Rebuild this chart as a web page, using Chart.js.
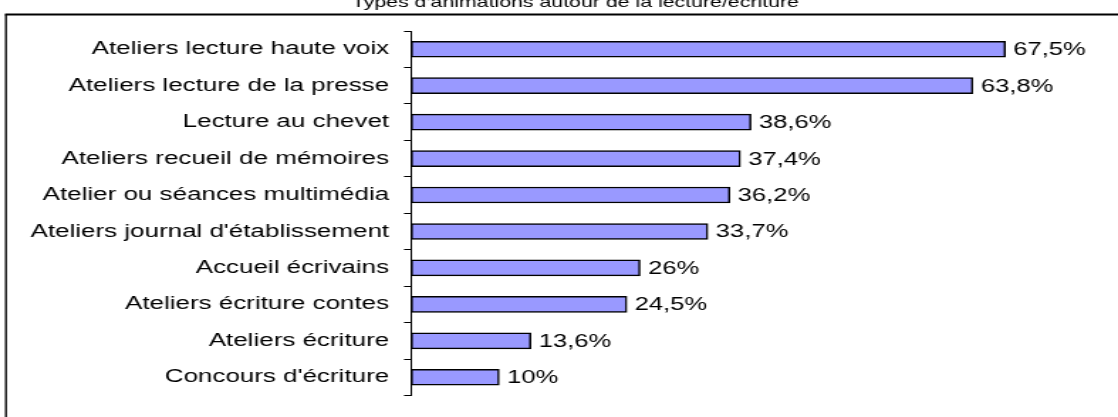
<!DOCTYPE html>
<html>
<head>
<meta charset="utf-8">
<script src="https://cdn.jsdelivr.net/npm/chart.js@4"></script>
<style>
  html, body { margin: 0; padding: 0; background: #fff; overflow: hidden; }
  #wrap { width: 787px; height: 417px; transform: scaleX(1.4206); transform-origin: 0 0; }
</style>
</head>
<body>
<div id="wrap"><canvas id="anim-chart" width="787" height="417"></canvas></div>
<script>
const chartTitle = "Types d'animations autour de la lecture/écriture";
const categories = [
    'Ateliers lecture haute voix',
    'Ateliers lecture de la presse',
    'Lecture au chevet',
    'Ateliers recueil de mémoires',
    'Atelier ou séances multimédia',
    "Ateliers journal d'établissement",
    'Accueil écrivains',
    'Ateliers écriture contes',
    'Ateliers écriture',
    "Concours d'écriture"
];
const percentages = [67.5, 63.8, 38.6, 37.4, 36.2, 33.7, 26, 24.5, 13.6, 10];

const fontFamily = '"Liberation Sans", Arial, sans-serif';

// frame + title (title is partly cut at the top, like the original)
const framePlugin = {
    id: 'frame',
    beforeDraw(chart) {
        const c = chart.ctx;
        c.save();
        c.strokeStyle = '#000';
        c.lineWidth = 2;
        c.beginPath();
        c.moveTo(3.5, 14.5);
        c.lineTo(chart.width + 5, 14.5);
        c.stroke();
        c.lineWidth = 1.4;
        c.beginPath();
        c.moveTo(4.2, 14.5);
        c.lineTo(4.2, chart.height + 5);
        c.stroke();
        c.fillStyle = '#000';
        c.font = '15px ' + fontFamily;
        c.textAlign = 'center';
        c.textBaseline = 'alphabetic';
        c.fillText(chartTitle, 405, 7);
        c.restore();
    }
};

// value labels at the end of each bar
const valueLabels = {
    id: 'valueLabels',
    afterDatasetsDraw(chart) {
        const c = chart.ctx;
        const meta = chart.getDatasetMeta(0);
        c.save();
        c.fillStyle = '#000';
        c.font = '18px ' + fontFamily;
        c.textAlign = 'left';
        c.textBaseline = 'middle';
        meta.data.forEach((bar, i) => {
            const txt = String(percentages[i]).replace('.', ',') + '%';
            c.fillText(txt, bar.x + 5.6, bar.y + 1);
        });
        c.restore();
    }
};

const ctx = document.getElementById('anim-chart').getContext('2d');
const animChart = new Chart(ctx, {
    type: 'bar',
    data: {
        labels: categories,
        datasets: [{
            data: percentages,
            backgroundColor: '#9999FF',
            borderColor: '#000',
            borderWidth: 1.5,
            borderSkipped: false,
            barThickness: 16
        }]
    },
    options: {
        indexAxis: 'y',
        responsive: false,
        devicePixelRatio: 1,
        animation: false,
        layout: { padding: { top: 31, bottom: 7, left: 0, right: 1.8 } },
        plugins: {
            legend: { display: false },
            tooltip: { enabled: false }
        },
        scales: {
            x: { display: false, min: 0, max: 80 },
            y: {
                afterFit(scale) { scale.width = 289.4; },
                grid: {
                    display: true,
                    drawOnChartArea: false,
                    drawTicks: true,
                    tickLength: 5,
                    color: '#000',
                    lineWidth: 1,
                    offset: true
                },
                border: { display: true, color: '#000', width: 1 },
                ticks: {
                    color: '#000',
                    autoSkip: false,
                    padding: 10.5,
                    font: { family: fontFamily, size: 18.3 }
                }
            }
        }
    },
    plugins: [framePlugin, valueLabels]
});
</script>
</body>
</html>
